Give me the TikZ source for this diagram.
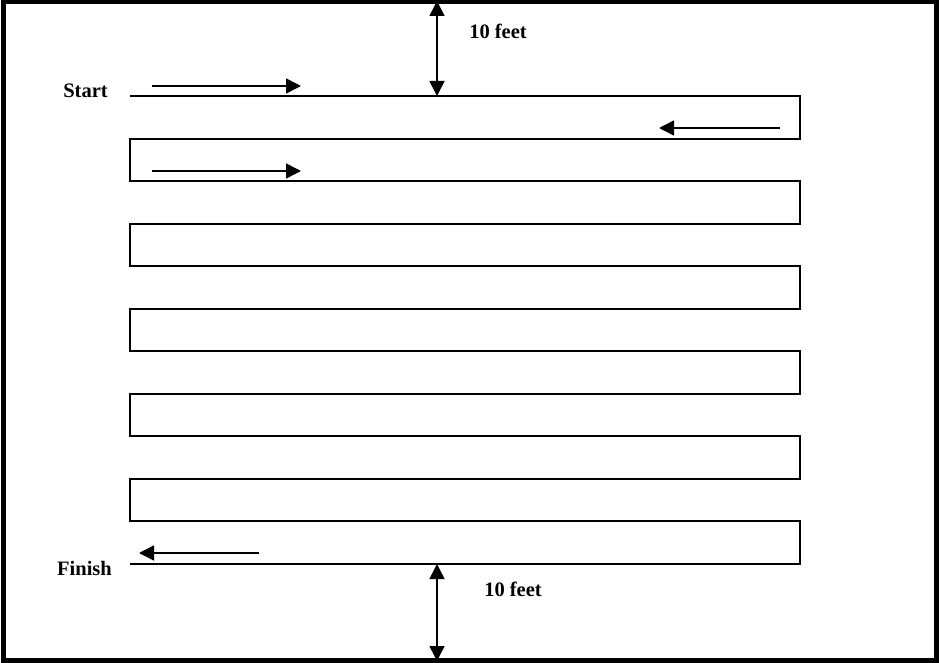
\documentclass[tikz,border=0pt]{standalone}
\usepackage{fontspec}
\setmainfont{Liberation Serif}
\usetikzlibrary{arrows.meta}
\begin{document}
\begin{tikzpicture}[x=1pt,y=-1pt,
  lane/.style={line width=1.7pt, line join=miter},
  tip/.tip={Triangle[length=15pt,width=15pt]},
  dirarrow/.style={line width=1.5pt, -tip},
  dimarrow/.style={line width=1.5pt, tip-tip},
  lbl/.style={font=\fontsize{20.5}{24}\selectfont\bfseries, inner sep=0pt}]
  \useasboundingbox (0,0) rectangle (939,663);
  % outer boundary of the field
  \draw[line width=4.5pt] (3.5,2.2) rectangle (936.3,660.6);

  % serpentine walking path, lanes 42.5 apart
  \draw[lane] (130,96)
    -- (800,96) -- (800,139) -- (130,139) -- (130,181)
    -- (800,181) -- (800,224) -- (130,224) -- (130,266)
    -- (800,266) -- (800,309) -- (130,309) -- (130,351)
    -- (800,351) -- (800,394) -- (130,394) -- (130,436)
    -- (800,436) -- (800,479) -- (130,479) -- (130,521)
    -- (800,521) -- (800,564) -- (130,564);

  % direction of travel
  \coordinate (a1s) at (152,86);  \coordinate (a1e) at (301,86);
  \coordinate (a2s) at (780,128); \coordinate (a2e) at (659,128);
  \coordinate (a3s) at (152,171); \coordinate (a3e) at (301,171);
  \coordinate (a4s) at (259,553); \coordinate (a4e) at (139,553);
  \draw[dirarrow] (a1s) -- (a1e);
  \draw[dirarrow] (a2s) -- (a2e);
  \draw[dirarrow] (a3s) -- (a3e);
  \draw[dirarrow] (a4s) -- (a4e);

  % clearance to the boundary
  \coordinate (d1t) at (437,1);   \coordinate (d1b) at (437,96);
  \coordinate (d2t) at (437,564); \coordinate (d2b) at (437,661);
  \draw[dimarrow] (d1t) -- (d1b);
  \draw[dimarrow] (d2t) -- (d2b);

  \node[lbl] (start)  at (85.5,91)  {Start};
  \node[lbl] (finish) at (84.5,568) {Finish};
  \node[lbl] (gapt)   at (498,31)   {10 feet};
  \node[lbl] (gapb)   at (513,589)  {10 feet};
\end{tikzpicture}
\end{document}
